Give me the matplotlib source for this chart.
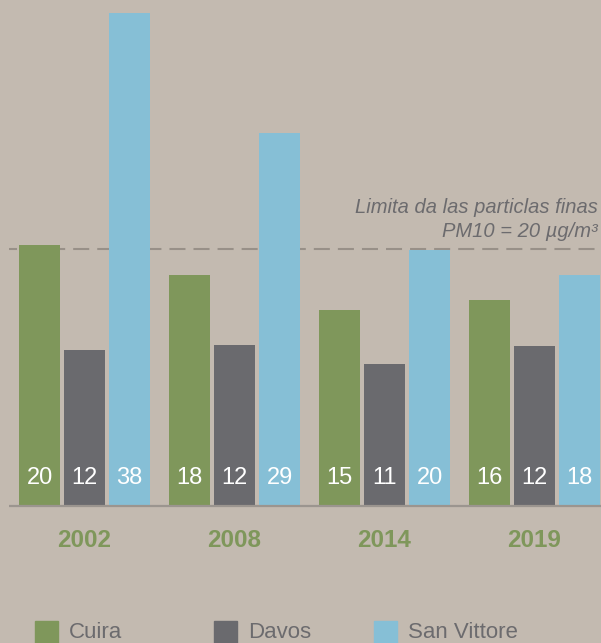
import matplotlib.pyplot as plt
from matplotlib.patches import Rectangle

plt.rcParams['font.family'] = ['Liberation Sans', 'DejaVu Sans']

# data (bar heights, labels as printed)
years = ['2002', '2008', '2014', '2019']
cuira = [20.3, 18.0, 15.2, 16.0]
davos = [12.1, 12.5, 11.0, 12.4]
san_vittore = [38.4, 29.1, 19.9, 18.0]
cuira_lbl = [20, 18, 15, 16]
davos_lbl = [12, 12, 11, 12]
san_vittore_lbl = [38, 29, 20, 18]
series_names = ['Cuira', 'Davos', 'San Vittore']
limit_value = 20

bg = '#c3bab0'
colors = ['#7f975b', '#6a6a6e', '#86bfd6']
text_gray = '#6c6b6e'

fig = plt.figure(figsize=(6.01, 6.43), dpi=100, facecolor=bg)
ax = fig.add_axes([0, 138 / 643, 1, 505 / 643])
ax.set_facecolor(bg)

# 150 px per group, bars 41 px wide, 45 px step
xleft = -84.5 / 150
ax.set_xlim(xleft, xleft + 601 / 150)
ax.set_ylim(0, 505 / 12.8)

width = 41 / 150
step = 45 / 150
x = list(range(len(years)))
all_series = [cuira, davos, san_vittore]
all_labels = [cuira_lbl, davos_lbl, san_vittore_lbl]
for k, vals in enumerate(all_series):
    xs = [i + (k - 1) * step for i in x]
    ax.bar(xs, vals, width=width, color=colors[k], zorder=2)
    for xi, v in zip(xs, all_labels[k]):
        ax.text(xi, 2.1, str(v), ha='center', va='center', color='white',
                fontsize=17, zorder=4)

# baseline
line_x0 = xleft + 9 / 150
ax.plot([line_x0, xleft + 601 / 150], [-0.06, -0.06], color='#9b958f', lw=1.6,
        zorder=3, solid_capstyle='butt', clip_on=False)

# limit line
ax.plot([line_x0, xleft + 601 / 150], [limit_value, limit_value],
        color='#989088', lw=1.5, linestyle=(3.84, (7.7, 3.85)), zorder=1)
ax.text(xleft + 598 / 150, 23.28, 'Limita da las particlas finas',
        ha='right', va='center', style='italic', fontsize=14.5, color=text_gray)
ax.text(xleft + 598 / 150, 21.4, 'PM10 = 20 µg/m³',
        ha='right', va='center', style='italic', fontsize=14.5, color=text_gray)

# year labels
for i, y in enumerate(years):
    ax.text(i, -2.8, y, ha='center', va='center', fontsize=17.5,
            fontweight='bold', color=colors[0], clip_on=False)

ax.axis('off')

# legend
leg_x = [35, 214, 374]
for k, name in enumerate(series_names):
    fig.add_artist(Rectangle((leg_x[k] / 601, (643 - 644) / 643), 23 / 601, 23 / 643,
                             transform=fig.transFigure, color=colors[k]))
    fig.text((leg_x[k] + 34) / 601, (643 - 633) / 643, name, ha='left',
             va='center', fontsize=16, color=text_gray)

fig.savefig('out.png', dpi=100, facecolor=bg)
